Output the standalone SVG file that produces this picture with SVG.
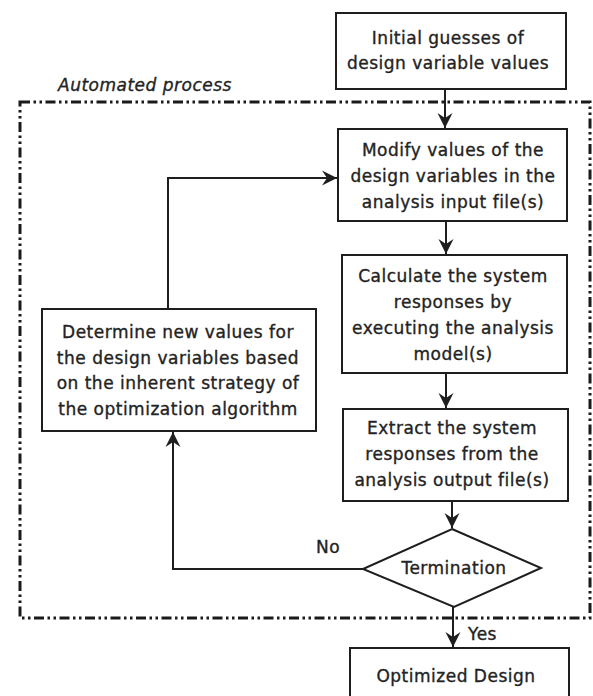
<svg xmlns="http://www.w3.org/2000/svg" width="593" height="696" viewBox="0 0 593 696">
  <style>
    .box { fill: #ffffff; stroke: #1e1e1e; stroke-width: 2; }
    .lbl { font-family: "DejaVu Sans", "Liberation Sans", sans-serif; font-size: 17px; letter-spacing: 0.5px; fill: #232323; stroke: #232323; stroke-width: 0.35; text-anchor: middle; }
    .tag { font-family: "DejaVu Sans", "Liberation Sans", sans-serif; font-size: 17px; letter-spacing: 0.5px; fill: #232323; stroke: #232323; stroke-width: 0.35; }
    .conn { fill: none; stroke: #1e1e1e; stroke-width: 2; }
    .frame { fill: none; stroke: #1a1a1a; stroke-width: 3; stroke-dasharray: 10 3.5 2.5 3.5 2.5 3.5; }
  </style>
  <defs>
    <marker id="arrow" markerUnits="userSpaceOnUse" markerWidth="16" markerHeight="16" viewBox="-15 -8 16 16" refX="0" refY="0" orient="auto">
      <path d="M0,0 L-15,-7.5 L-10,0 L-15,7.5 Z" fill="#1e1e1e"/>
    </marker>
  </defs>

  <rect width="593" height="696" fill="#ffffff"/>

  <!-- automated loop boundary -->
  <g id="automated-process">
    <rect class="frame" x="20" y="102" width="570" height="516"/>
    <text class="tag" x="58" y="91" font-style="italic">Automated process</text>
  </g>

  <!-- connectors -->
  <g id="connectors">
    <path class="conn" d="M445,89 V128" marker-end="url(#arrow)"/>
    <path class="conn" d="M446,221 V254" marker-end="url(#arrow)"/>
    <path class="conn" d="M446,373 V408" marker-end="url(#arrow)"/>
    <path class="conn" d="M452,501 V528" marker-end="url(#arrow)"/>
    <path class="conn" d="M453,607 V647" marker-end="url(#arrow)"/>
    <path class="conn" d="M168,309 V178 H337" marker-end="url(#arrow)"/>
    <path class="conn" d="M363,569 H173 V432" marker-end="url(#arrow)"/>
    <text class="tag" x="316" y="553">No</text>
    <text class="tag" x="468" y="640">Yes</text>
  </g>

  <g id="initial-guesses">
    <rect class="box" x="336" y="13" width="230" height="76"/>
    <text class="lbl" x="448" y="44">Initial guesses of</text>
    <text class="lbl" x="448" y="69">design variable values</text>
  </g>

  <g id="modify-values">
    <rect class="box" x="338" y="129" width="229" height="92"/>
    <text class="lbl" x="453" y="156">Modify values of the</text>
    <text class="lbl" x="453" y="182">design variables in the</text>
    <text class="lbl" x="453" y="208">analysis input file(s)</text>
  </g>

  <g id="calculate-responses">
    <rect class="box" x="342" y="255" width="225" height="118"/>
    <text class="lbl" x="453" y="282">Calculate the system</text>
    <text class="lbl" x="453" y="308">responses by</text>
    <text class="lbl" x="453" y="334">executing the analysis</text>
    <text class="lbl" x="453" y="360">model(s)</text>
  </g>

  <g id="extract-responses">
    <rect class="box" x="343" y="409" width="225" height="92"/>
    <text class="lbl" x="452" y="434">Extract the system</text>
    <text class="lbl" x="452" y="460">responses from the</text>
    <text class="lbl" x="452" y="486">analysis output file(s)</text>
  </g>

  <g id="termination">
    <polygon class="box" points="452,529 541,568 454,607 363,569"/>
    <text class="lbl" x="454" y="574">Termination</text>
  </g>

  <g id="determine-new-values">
    <rect class="box" x="42" y="309" width="274" height="122"/>
    <text class="lbl" x="178" y="338">Determine new values for</text>
    <text class="lbl" x="178" y="364">the design variables based</text>
    <text class="lbl" x="178" y="389">on the inherent strategy of</text>
    <text class="lbl" x="178" y="415">the optimization algorithm</text>
  </g>

  <g id="optimized-design">
    <rect class="box" x="350" y="648" width="219" height="70"/>
    <text class="lbl" x="456" y="682">Optimized Design</text>
  </g>
</svg>
